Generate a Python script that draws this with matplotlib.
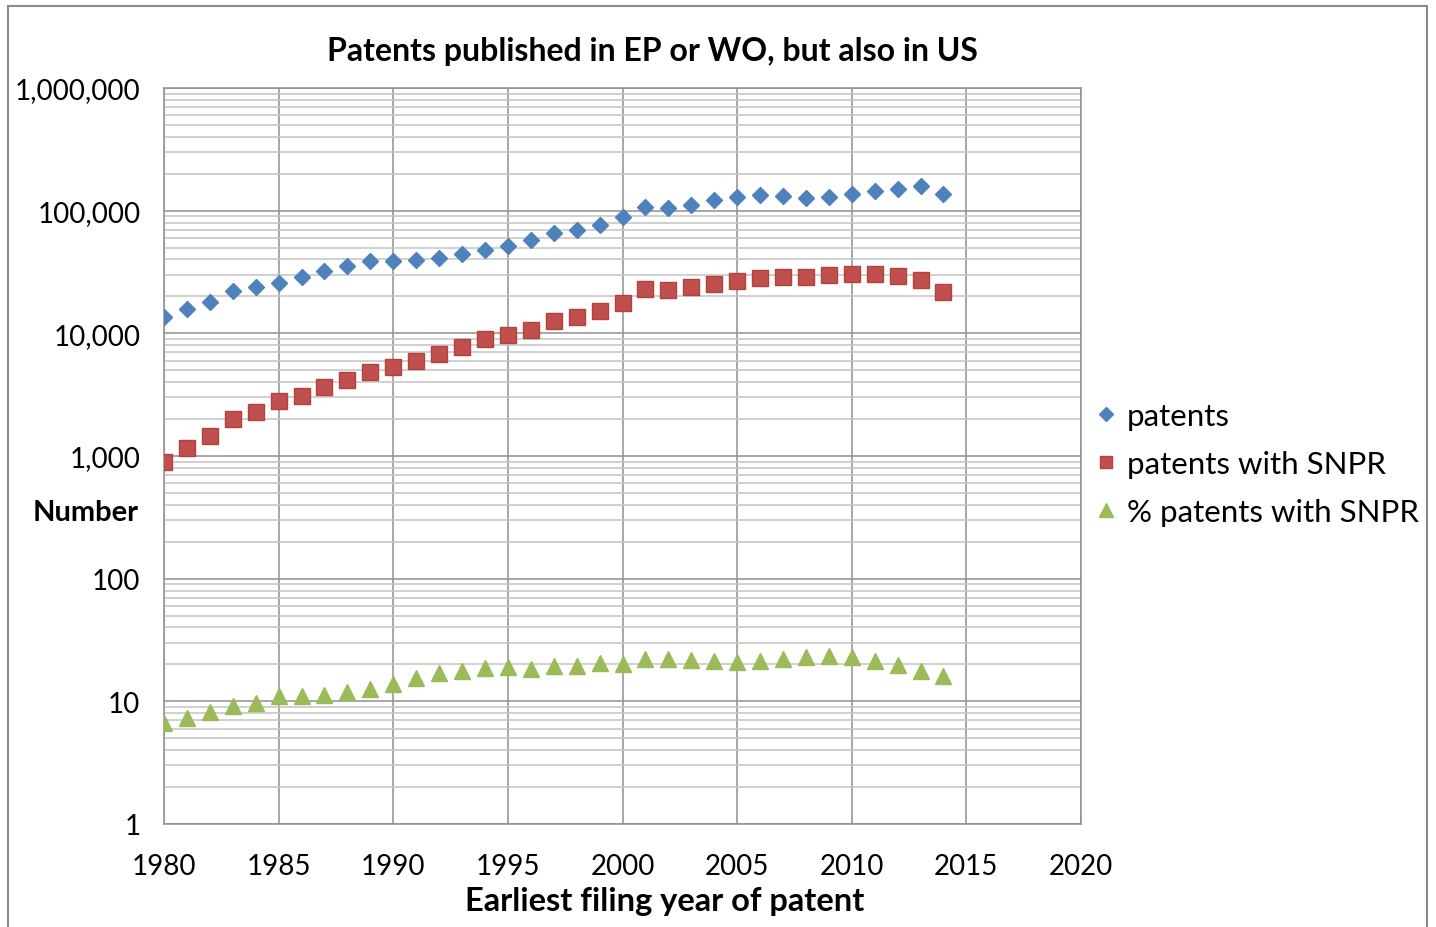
import matplotlib
matplotlib.use("Agg")
import matplotlib.pyplot as plt
from matplotlib.ticker import FixedLocator, FuncFormatter, LogLocator, NullFormatter
from matplotlib.patches import Rectangle

plt.rcParams['font.family'] = ['Lato', 'DejaVu Sans']

years = list(range(1980, 2015))

# (log scale, so approximate)
patents = [13600, 15800, 17900, 22000, 23700, 25700, 28600, 32400, 35600, 38700,
           39100, 39800, 41400, 44400, 48100, 51200, 57300, 65300, 69500, 76400,
           88300, 108000, 104500, 112000, 122000, 128500, 134000, 132500, 126000, 128500,
           136700, 145600, 150000, 160000, 138000]
patents_snpr = [900, 1156, 1465, 2000, 2270, 2790, 3100, 3630, 4190, 4810,
                5280, 5980, 6790, 7690, 9000, 9750, 10650, 12500, 13500, 15200,
                17700, 23000, 22600, 23700, 25200, 26500, 28100, 29000, 28600, 29900,
                30500, 30500, 29500, 27400, 21900]
pct_snpr = [6.7, 7.3, 8.2, 9.2, 9.7, 11.0, 11.0, 11.3, 11.9, 12.6,
            13.8, 15.5, 16.9, 17.6, 18.7, 19.1, 18.5, 19.4, 19.4, 20.5,
            20.0, 22.0, 22.0, 21.6, 21.2, 20.8, 21.2, 22.0, 23.2, 23.6,
            23.2, 21.5, 19.9, 17.8, 16.1]

series_labels = ["patents", "patents with SNPR", "% patents with SNPR"]
x_ticks = list(range(1980, 2021, 5))
y_ticks = [1, 10, 100, 1000, 10000, 100000, 1000000]

blue = "#4F81BD"
red = "#C0504D"
green = "#9BBB59"
major_grid = "#8f8f8f"
minor_grid = "#c4c4c4"

fig = plt.figure(figsize=(14.36, 9.28), dpi=100)
ax = fig.add_axes([164 / 1436, 1 - 825 / 928, (1081 - 164) / 1436, (825 - 89) / 928])

ax.plot(years, patents, linestyle='none', marker='D', ms=8.2, color=blue,
        mec=blue, label=series_labels[0], zorder=3)
ax.plot(years, patents_snpr, linestyle='none', marker='s', ms=11, color=red,
        mec="#b5413e", mew=1, label=series_labels[1], zorder=3)
ax.plot(years, pct_snpr, linestyle='none', marker='^', ms=11.5, color=green,
        mec=green, label=series_labels[2], zorder=3)

ax.set_yscale('log')
ax.set_ylim(1, 1e6)
ax.set_xlim(1980, 2020)
ax.xaxis.set_major_locator(FixedLocator(x_ticks))
ax.yaxis.set_major_locator(FixedLocator(y_ticks))
ax.yaxis.set_minor_locator(LogLocator(base=10, subs=range(2, 10), numticks=20))
ax.yaxis.set_minor_formatter(NullFormatter())
ax.yaxis.set_major_formatter(FuncFormatter(lambda v, p: f"{v:,.0f}"))

ax.grid(True, which='major', axis='both', color=major_grid, lw=1.1)
ax.grid(True, which='minor', axis='y', color=minor_grid, lw=1.1)
ax.set_axisbelow(True)
for s in ax.spines.values():
    s.set_color(major_grid)
    s.set_linewidth(1.1)

ax.tick_params(axis='both', which='both', length=0, labelsize=20, colors='black')
ax.tick_params(axis='y', pad=17)
ax.tick_params(axis='x', pad=21)

fig.text(652 / 1436, 1 - 51 / 928, "Patents published in EP or WO, but also in US",
         ha='center', va='center', fontsize=23, fontweight='bold')
fig.text(665 / 1436, 1 - 902 / 928, "Earliest filing year of patent",
         ha='center', va='center', fontsize=23.5, fontweight='bold')
fig.text(86 / 1436, 1 - 513 / 928, "Number",
         ha='center', va='center', fontsize=21, fontweight='bold')

fig.legend(loc='center left', bbox_to_anchor=(1097 / 1436, 1 - 465 / 928),
           frameon=False, fontsize=22.5, markerscale=0.85, handlelength=0.6,
           handletextpad=0.35, labelspacing=0.65, borderpad=0, borderaxespad=0)

# outer frame of the chart
fig.patches.append(Rectangle((8 / 1436, -0.02), (1427 - 8) / 1436, 1.02 - 7 / 928,
                             transform=fig.transFigure, fill=False,
                             edgecolor="#8a8a8a", lw=1.5))

fig.savefig("out.png", dpi=100)
